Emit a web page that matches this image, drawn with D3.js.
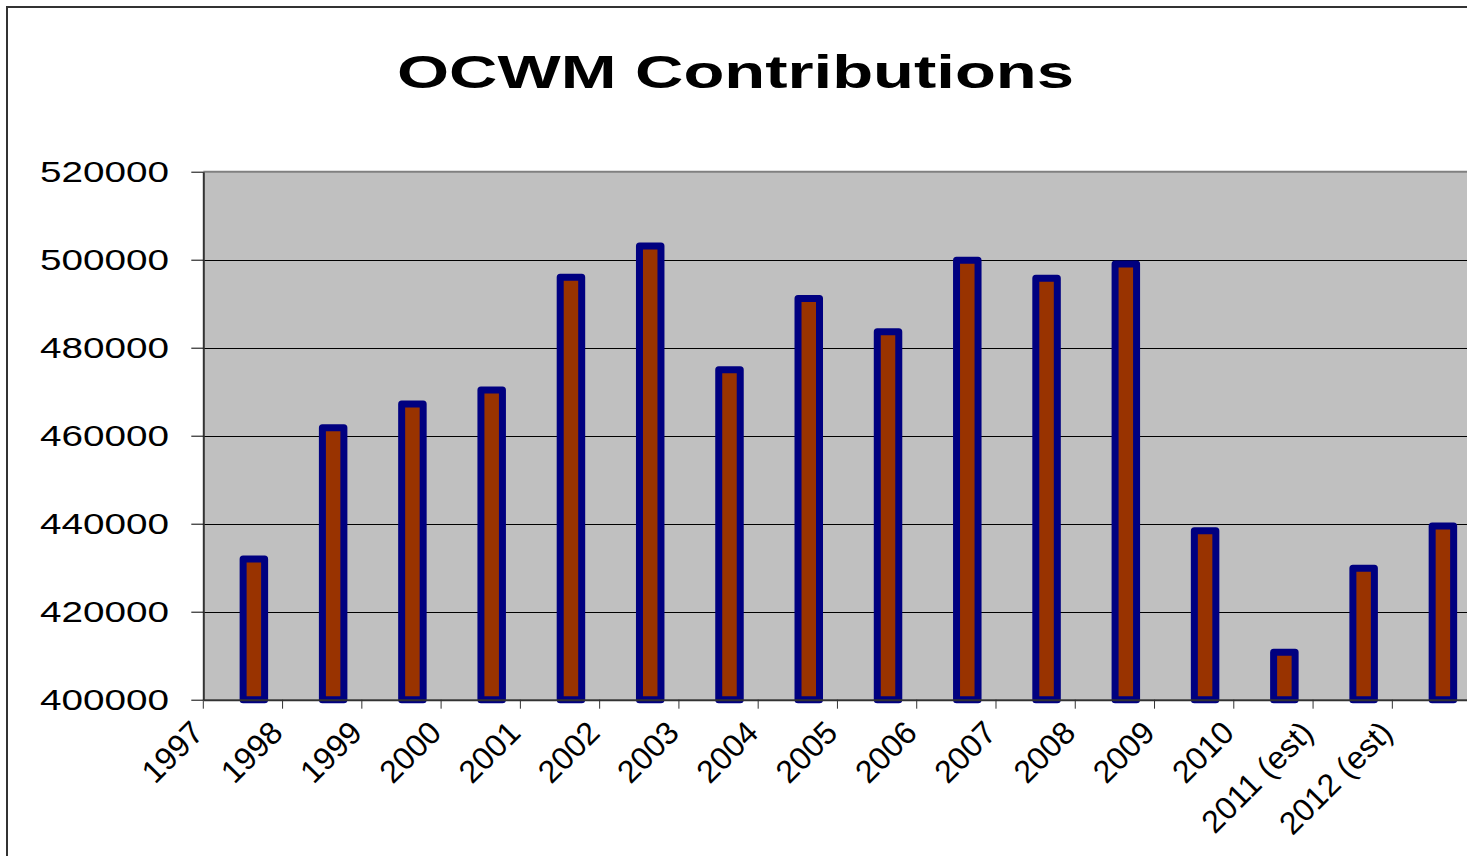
<!DOCTYPE html>
<html>
<head>
<meta charset="utf-8">
<script src="https://cdn.jsdelivr.net/npm/d3@7"></script>
<style>
  html, body { margin: 0; padding: 0; background: #fff; overflow: hidden; }
  svg { display: block; font-family: "Liberation Sans", Arial, sans-serif; }
</style>
</head>
<body>
<div id="chart"></div>
<script>
const chartTitle = "OCWM Contributions";
const years = ["1997", "1998", "1999", "2000", "2001", "2002", "2003", "2004",
               "2005", "2006", "2007", "2008", "2009", "2010", "2011 (est)", "2012 (est)"];
const contributions = [432000, 461800, 467200, 470400, 496000, 503100, 475000, 491200,
                       483600, 499900, 495800, 499000, 438400, 410800, 429900, 439500];
const yTicks = [400000, 420000, 440000, 460000, 480000, 500000, 520000];

const width = 1467, height = 856;
const plotLeft = 203.3, plotTop = 171.7, plotBottom = 699.7, plotRight = 1471.6;

const svg = d3.select("#chart").append("svg")
    .attr("width", width)
    .attr("height", height);

// outer chart border (runs off the right and bottom edges)
svg.append("rect")
    .attr("x", 7).attr("y", 7)
    .attr("width", width + 20).attr("height", height + 20)
    .attr("fill", "#fff")
    .attr("stroke", "#333")
    .attr("stroke-width", 2);

svg.append("text")
    .attr("x", 735.5)
    .attr("y", 88)
    .attr("text-anchor", "middle")
    .attr("font-size", 46)
    .attr("font-weight", "bold")
    .attr("textLength", 677)
    .attr("lengthAdjust", "spacingAndGlyphs")
    .text(chartTitle);

const x = d3.scaleBand().domain(years).range([plotLeft, plotRight]).padding(0);
const y = d3.scaleLinear().domain([400000, 520000]).range([plotBottom, plotTop]);
const bw = x.bandwidth();

// plot area
svg.append("rect")
    .attr("x", plotLeft).attr("y", plotTop)
    .attr("width", plotRight - plotLeft).attr("height", plotBottom - plotTop)
    .attr("fill", "#c0c0c0");

svg.append("line")
    .attr("x1", plotLeft).attr("x2", plotRight)
    .attr("y1", plotTop).attr("y2", plotTop)
    .attr("stroke", "#808080").attr("stroke-width", 2);

// gridlines
svg.append("g")
    .selectAll("line")
    .data(yTicks.filter(t => t > 400000 && t < 520000))
    .enter().append("line")
    .attr("x1", plotLeft).attr("x2", plotRight)
    .attr("y1", d => Math.round(y(d)) + 0.5)
    .attr("y2", d => Math.round(y(d)) + 0.5)
    .attr("stroke", "#000")
    .attr("stroke-width", 1);

// bars
const barW = 21.5;
svg.append("g")
    .selectAll("rect")
    .data(contributions)
    .enter().append("rect")
    .attr("x", (d, i) => x(years[i]) + bw * 0.638 - barW / 2)
    .attr("y", d => y(d))
    .attr("width", barW)
    .attr("height", d => plotBottom - y(d))
    .attr("fill", "#993300")
    .attr("stroke", "#000080")
    .attr("stroke-width", 7)
    .attr("stroke-linejoin", "round");

// y axis
const yAxis = svg.append("g")
    .attr("transform", `translate(${plotLeft},0)`)
    .call(d3.axisLeft(y).tickValues(yTicks).tickSize(12).tickSizeOuter(0).tickFormat(d3.format("d")));

yAxis.select(".domain").attr("stroke", "#333").attr("stroke-width", 2);
yAxis.selectAll(".tick line").attr("stroke", "#000");
yAxis.selectAll(".tick text")
    .attr("x", -34.3)
    .attr("dy", 10)
    .attr("fill", "#000")
    .attr("font-size", 29)
    .attr("font-family", "Liberation Sans, Arial, sans-serif")
    .attr("textLength", 129)
    .attr("lengthAdjust", "spacingAndGlyphs");

// x axis, ticks on category boundaries
const xAxis = svg.append("g")
    .attr("transform", `translate(0,${plotBottom})`)
    .call(d3.axisBottom(x).tickSize(9).tickSizeOuter(0));

xAxis.select(".domain").attr("stroke", "#333").attr("stroke-width", 2);
xAxis.selectAll(".tick line")
    .attr("stroke", "#333")
    .attr("transform", `translate(${-bw / 2},0)`);
xAxis.selectAll(".tick text")
    .attr("x", 0).attr("y", 0).attr("dy", 0)
    .attr("text-anchor", "end")
    .attr("fill", "#000")
    .attr("font-size", 32)
    .attr("font-family", "Liberation Sans, Arial, sans-serif")
    .attr("transform", `translate(${-bw / 2 + 2},35) rotate(-45)`);
</script>
</body>
</html>
